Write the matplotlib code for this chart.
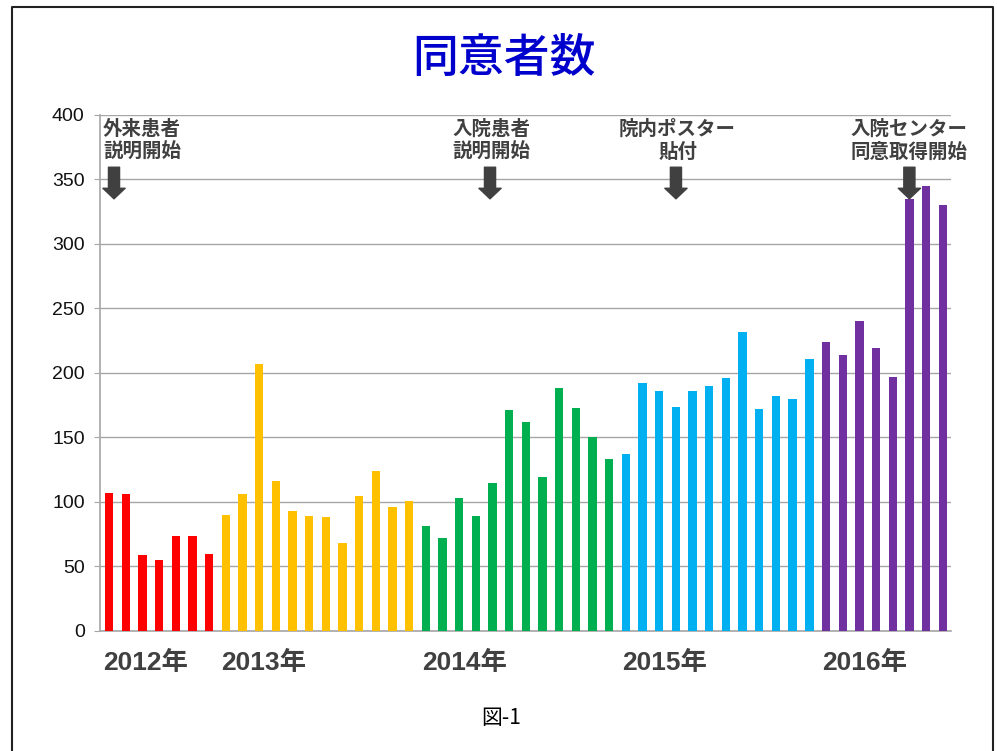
import matplotlib.pyplot as plt
from matplotlib.lines import Line2D

plt.rcParams['font.family'] = ['Liberation Sans', 'Noto Sans CJK JP']

# monthly counts, one list per year
counts_2012 = [107, 106, 59, 55, 74, 74, 60]
counts_2013 = [90, 106, 207, 116, 93, 89, 88, 68, 105, 124, 96, 101]
counts_2014 = [81, 72, 103, 89, 115, 171, 162, 119, 188, 173, 150, 133]
counts_2015 = [137, 192, 186, 174, 186, 190, 196, 232, 172, 182, 180, 211]
counts_2016 = [224, 214, 240, 219, 197, 335, 345, 330]

years = ['2012年', '2013年', '2014年', '2015年', '2016年']
year_colors = ['#FF0000', '#FFC000', '#00B050', '#00B0F0', '#7030A0']
year_label_x = [2.2, 9.3, 21.3, 33.3, 45.3]

events = ['外来患者\n説明開始', '入院患者\n説明開始', '院内ポスター\n貼付', '入院センター\n同意取得開始']
event_arrow_x = [0.3, 22.85, 34.0, 48.0]
event_text_x = [-0.36, 22.95, 34.1, 48.0]
event_ha = ['left', 'center', 'center', 'center']

groups = [counts_2012, counts_2013, counts_2014, counts_2015, counts_2016]

fig = plt.figure(figsize=(9.97, 7.51), dpi=100)
ax = fig.add_axes([0.1003, 0.1598, 0.8533, 0.6871])

# BARS
i = 0
for vals, col in zip(groups, year_colors):
    xs = list(range(i, i + len(vals)))
    ax.bar(xs, vals, width=0.5, color=col, zorder=3)
    i += len(vals)

ax.set_xlim(-0.54, 50.48)
ax.set_ylim(0, 400)
ax.set_yticks(range(0, 401, 50))
ax.set_xticks([])
ax.grid(axis='y', color='#A6A6A6', lw=1, zorder=0)
for s in ['top', 'right']:
    ax.spines[s].set_visible(False)
for s in ['left', 'bottom']:
    ax.spines[s].set_color('#A6A6A6')
    ax.spines[s].set_linewidth(1.2)
ax.tick_params(axis='y', length=4, color='#A6A6A6', pad=7, labelsize=14, labelcolor='#111111')

# year labels under the axis
for lab, x in zip(years, year_label_x):
    ax.text(x, -25, lab, ha='center', va='center', fontsize=19, fontweight='bold',
            color='#404040', clip_on=False)

# event notes + arrows
for txt, tx, ha, axx in zip(events, event_text_x, event_ha, event_arrow_x):
    ax.text(tx, 380, txt, ha=ha, va='center', fontsize=14, fontweight='bold',
            color='#404040', linespacing=1.22, family=['Noto Sans CJK JP'], zorder=5)
    ax.annotate('', xy=(axx, 335), xytext=(axx, 359.5),
                arrowprops=dict(arrowstyle='simple,head_width=0.8,head_length=0.38,tail_width=0.4',
                                color='#404040', shrinkA=0, shrinkB=0, mutation_scale=20),
                zorder=5)

# TITLE / caption
fig.text(503.6 / 997, 1 - 59 / 751, '同意者数', ha='center', va='center', fontsize=33,
         color='#0000CC', family=['Noto Sans CJK JP'], fontweight='medium')
fig.text(501 / 997, 1 - 718 / 751, '図-1', ha='center', va='center', fontsize=15,
         color='black', family=['Noto Sans CJK JP'])

# frame around the slide
fig.add_artist(Line2D([12 / 997, 12 / 997, 993 / 997, 993 / 997],
                      [-0.01, 1 - 7 / 751, 1 - 7 / 751, -0.01],
                      transform=fig.transFigure, color='#222222', lw=1.5))

fig.savefig('out.png', dpi=100)
